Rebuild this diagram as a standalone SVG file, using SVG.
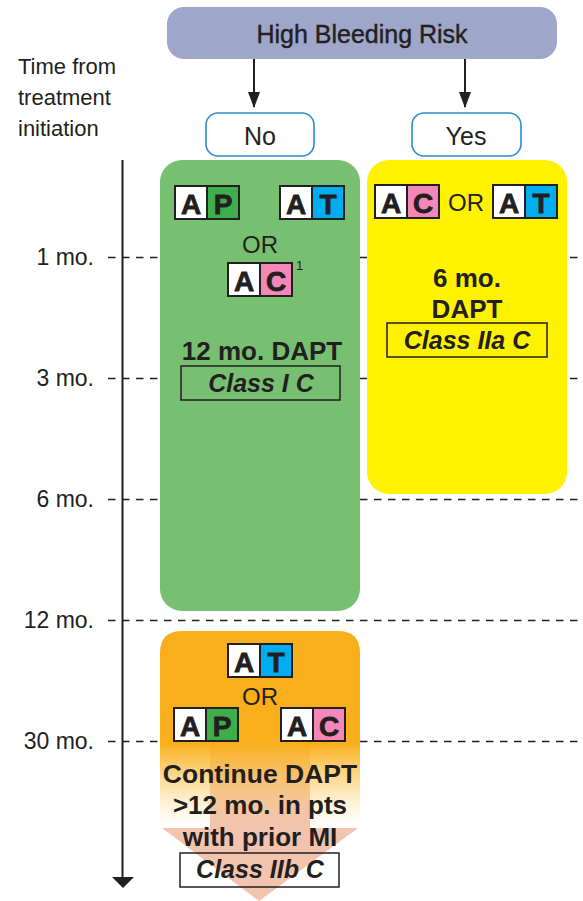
<svg xmlns="http://www.w3.org/2000/svg" width="583" height="901" viewBox="0 0 583 901">
<defs>
<style>
text{font-family:"Liberation Sans",Arial,sans-serif;fill:#231f20}
.lab{font-size:22px}
.tick{font-size:23px;text-anchor:end}
.or{font-size:24px;text-anchor:middle}
.b{font-size:26px;font-weight:bold;text-anchor:middle}
.cls{font-size:25px;font-weight:bold;font-style:italic;text-anchor:middle}
.lt{font-size:28px;font-weight:bold;text-anchor:middle;stroke:#231f20;stroke-width:0.8}
.dash{stroke:#231f20;stroke-width:1.6;stroke-dasharray:7.5 6.5;fill:none}
.cell{stroke:#231f20;stroke-width:2}
.cbox{fill:none;stroke:#231f20;stroke-width:1.5}
.yn{fill:#fff;stroke:#2a8dcb;stroke-width:1.6}
.conn{stroke:#231f20;stroke-width:2;fill:none}
</style>
<marker id="ah" viewBox="0 0 16 12" refX="15" refY="6" markerWidth="16" markerHeight="12" markerUnits="userSpaceOnUse" orient="auto">
<path d="M0,0 L16,6 L0,12 Z" fill="#231f20"/>
</marker>
<linearGradient id="og" gradientUnits="userSpaceOnUse" x1="0" y1="631" x2="0" y2="825">
<stop offset="0" stop-color="#f9ae1b" stop-opacity="1"/>
<stop offset="0.58" stop-color="#f9ae1b" stop-opacity="1"/>
<stop offset="1" stop-color="#fdd97a" stop-opacity="0"/>
</linearGradient>
<g id="cellA"><rect class="cell" width="32" height="33" fill="#fff"/><text class="lt" x="16" y="28">A</text></g>
</defs>
<rect width="583" height="901" fill="#fff"/>

<g id="timeline">
<text class="lab" x="18" y="74">Time from</text>
<text class="lab" x="18" y="105">treatment</text>
<text class="lab" x="18" y="136">initiation</text>
<line class="dash" x1="108" y1="257.5" x2="583" y2="257.5"/>
<line class="dash" x1="108" y1="378.5" x2="583" y2="378.5"/>
<line class="dash" x1="108" y1="499.5" x2="583" y2="499.5"/>
<line class="dash" x1="108" y1="620.5" x2="583" y2="620.5"/>
<line class="dash" x1="108" y1="741.5" x2="583" y2="741.5"/>
<text class="tick" x="94" y="265">1 mo.</text>
<text class="tick" x="94" y="386">3 mo.</text>
<text class="tick" x="94" y="507">6 mo.</text>
<text class="tick" x="94" y="628">12 mo.</text>
<text class="tick" x="94" y="749">30 mo.</text>
<line x1="122.5" y1="160" x2="122.5" y2="878" stroke="#231f20" stroke-width="2"/>
<path d="M112,877 L134,877 L123,888 Z" fill="#231f20"/>
</g>

<g id="header">
<rect x="167" y="7" width="390" height="52" rx="17" fill="#9ea6ca"/>
<text x="362" y="43" style="font-size:25px;text-anchor:middle;stroke:#231f20;stroke-width:0.4">High Bleeding Risk</text>
</g>

<g id="connectors">
<line class="conn" x1="254" y1="59" x2="254" y2="107" marker-end="url(#ah)"/>
<line class="conn" x1="465" y1="59" x2="465" y2="107" marker-end="url(#ah)"/>
</g>

<g id="no">
<rect class="yn" x="206" y="113" width="108" height="43" rx="12"/>
<text x="260" y="145" style="font-size:25px;text-anchor:middle">No</text>
</g>
<g id="yes">
<rect class="yn" x="412" y="113" width="109" height="43" rx="12"/>
<text x="466" y="145" style="font-size:25px;text-anchor:middle">Yes</text>
</g>

<g id="green">
<rect x="160" y="160" width="200" height="451" rx="22" fill="#77bf71"/>
<g transform="translate(175,186)"><use href="#cellA"/><rect class="cell" x="32" width="32" height="33" fill="#3dae49"/><text class="lt" x="48" y="28">P</text></g>
<g transform="translate(280,186)"><use href="#cellA"/><rect class="cell" x="32" width="32" height="33" fill="#00aeef"/><text class="lt" x="48" y="28">T</text></g>
<text class="or" x="260" y="253">OR</text>
<g transform="translate(228,263)"><use href="#cellA"/><rect class="cell" x="32" width="32" height="33" fill="#f287b8"/><text class="lt" x="48" y="28">C</text></g>
<text x="296" y="270" style="font-size:13px">1</text>
<text class="b" x="262" y="360">12 mo. DAPT</text>
<rect class="cbox" x="181" y="366" width="159" height="34"/>
<text class="cls" x="261" y="392">Class I C</text>
</g>

<g id="yellow">
<rect x="367" y="160" width="200" height="334" rx="22" fill="#fff200"/>
<g transform="translate(375,185)"><use href="#cellA"/><rect class="cell" x="32" width="32" height="33" fill="#f287b8"/><text class="lt" x="48" y="28">C</text></g>
<text class="or" x="466" y="211">OR</text>
<g transform="translate(493,185)"><use href="#cellA"/><rect class="cell" x="32" width="32" height="33" fill="#00aeef"/><text class="lt" x="48" y="28">T</text></g>
<text class="b" x="467" y="287">6 mo.</text>
<text class="b" x="467" y="318">DAPT</text>
<rect class="cbox" x="387" y="323" width="160" height="34"/>
<text class="cls" x="467" y="349">Class IIa C</text>
</g>

<g id="orange">
<path d="M210,699 L310,699 L310,828 L358,828 L259,901 L162,828 L210,828 Z" fill="#f2c3ad"/>
<path d="M160,653 Q160,631 182,631 L338,631 Q360,631 360,653 L360,828 L160,828 Z" fill="url(#og)"/>
<g transform="translate(228,644)"><use href="#cellA"/><rect class="cell" x="32" width="32" height="33" fill="#00aeef"/><text class="lt" x="48" y="28">T</text></g>
<text class="or" x="260" y="705">OR</text>
<g transform="translate(174,708)"><use href="#cellA"/><rect class="cell" x="32" width="32" height="33" fill="#3dae49"/><text class="lt" x="48" y="28">P</text></g>
<g transform="translate(281,708)"><use href="#cellA"/><rect class="cell" x="32" width="32" height="33" fill="#f287b8"/><text class="lt" x="48" y="28">C</text></g>
<text class="b" x="260" y="783" style="font-size:26.5px">Continue DAPT</text>
<text class="b" x="260" y="814">&gt;12 mo. in pts</text>
<text class="b" x="260" y="846">with prior MI</text>
<rect class="cbox" x="180" y="853" width="159" height="34" fill="#fff"/>
<text class="cls" x="260" y="878">Class IIb C</text>
</g>
</svg>
